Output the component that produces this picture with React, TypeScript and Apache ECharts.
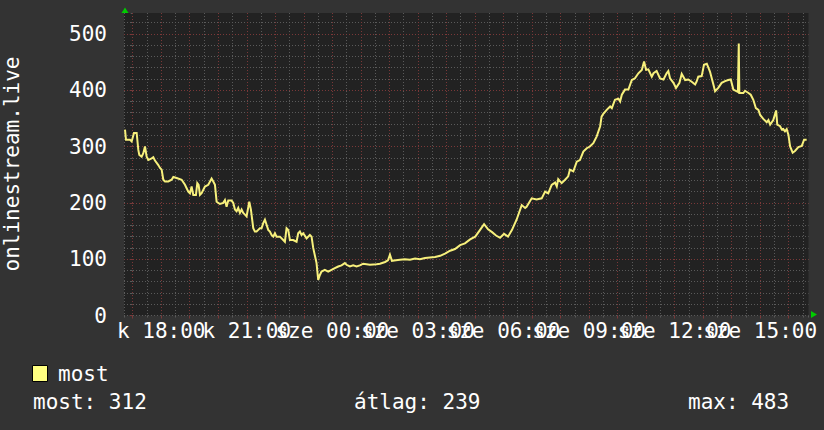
import React, { useEffect, useRef } from "react";
import * as echarts from "echarts";

// hours since Tuesday ("k") 17:00
const hours = [
  -0.27, -0.235, -0.095, -0.036, 0.046, 0.139, 0.197, 0.232, 0.314, 0.372, 0.431, 0.489, 0.548, 0.665, 0.723, 0.781,
  0.898, 0.957, 1.015, 1.073, 1.132, 1.248, 1.365, 1.424, 1.541, 1.716, 1.833, 1.891, 1.949, 2.008, 2.066, 2.124,
  2.218, 2.265, 2.311, 2.358, 2.416, 2.533, 2.65, 2.767, 2.825, 2.884, 2.942, 3.059, 3.176, 3.234, 3.292, 3.351,
  3.467, 3.526, 3.584, 3.643, 3.701, 3.76, 3.818, 3.876, 3.935, 3.993, 4.087, 4.145, 4.227, 4.285, 4.343, 4.402,
  4.46, 4.519, 4.577, 4.636, 4.694, 4.752, 4.811, 4.869, 4.928, 4.986, 5.044, 5.161, 5.278, 5.336, 5.395, 5.453,
  5.512, 5.628, 5.745, 5.803, 5.862, 5.92, 5.979, 6.096, 6.212, 6.271, 6.329, 6.446, 6.504, 6.563, 6.621, 6.738,
  6.855, 6.972, 7.088, 7.205, 7.322, 7.439, 7.497, 7.614, 7.731, 7.848, 7.964, 8.081, 8.198, 8.315,
  8.55, 8.67, 8.85, 8.95, 9.02, 9.09, 9.23, 9.37, 9.54, 9.72, 9.9, 10.07, 10.25, 10.42, 10.6, 10.78, 10.95, 11.13,
  11.3, 11.48, 11.65, 11.83, 12.01, 12.18, 12.32, 12.46, 12.6, 12.74, 12.88, 13.02, 13.16, 13.3, 13.37,
  13.46, 13.64, 13.76, 13.81, 13.99, 14.16, 14.34, 14.46, 14.57, 14.69, 14.81, 14.87, 14.92, 15.04, 15.16, 15.27,
  15.33, 15.45, 15.57, 15.68, 15.8, 15.92, 16.03, 16.15, 16.27, 16.39, 16.44, 16.5, 16.62, 16.74, 16.8, 16.91,
  17.03, 17.09, 17.15, 17.26, 17.38, 17.5, 17.61, 17.73, 17.85, 17.93, 18.0, 18.08, 18.2, 18.26, 18.37, 18.49,
  18.61, 18.72, 18.78, 18.84, 18.96, 19.05, 19.17, 19.25, 19.37, 19.48, 19.6, 19.72, 19.77, 19.83, 19.95, 20.03,
  20.13, 20.24, 20.36, 20.42, 20.53, 20.65, 20.77, 20.88, 20.97, 21.06, 21.18, 21.22, 21.25, 21.27, 21.41, 21.47,
  21.59, 21.67, 21.76, 21.85, 21.94, 22.0, 22.11, 22.23, 22.29, 22.35, 22.46, 22.56, 22.6, 22.7, 22.76, 22.81,
  22.87, 22.93, 22.99, 23.05, 23.14, 23.22, 23.34, 23.46, 23.54, 23.63,
];

const values = [
  330, 312, 312, 309, 324, 324, 294, 285, 282, 288, 300, 282, 276, 279, 281, 275,
  267, 262, 259, 241, 238, 238, 241, 246, 244, 241, 232, 226, 220, 217, 229, 214,
  214, 235, 232, 214, 217, 229, 232, 243, 238, 232, 202, 198, 200, 205, 193, 204,
  204, 200, 188, 185, 191, 182, 188, 182, 179, 176, 202, 188, 155, 149, 149, 152,
  155, 155, 164, 170, 161, 152, 149, 143, 140, 146, 140, 140, 134, 131, 155, 152,
  134, 134, 131, 146, 149, 143, 146, 137, 143, 140, 120, 93, 63, 72, 78, 81,
  78, 81, 84, 87, 89, 93, 90, 87, 89, 87, 89, 92, 91, 90,
  91, 92, 95, 98, 108, 97, 98, 99, 100, 99, 101, 100, 102, 103, 104, 106, 110, 115,
  118, 125, 128, 135, 140, 152, 162, 153, 148, 142, 138, 145, 140, 152, 160,
  170, 196, 191, 193, 208, 206, 208, 220, 217, 232, 236, 229, 242, 235, 241, 247,
  259, 256, 273, 276, 291, 297, 300, 306, 318, 336, 353, 358, 365, 371, 368, 383,
  385, 380, 392, 401, 401, 418, 421, 430, 436, 451, 436, 437, 424, 430, 434, 421,
  419, 430, 434, 421, 413, 404, 413, 429, 418, 419, 415, 410, 415, 424, 425, 445,
  447, 433, 410, 398, 404, 413, 416, 418, 419, 401, 398, 397, 483, 395, 395, 399,
  395, 392, 383, 368, 365, 356, 349, 343, 347, 339, 347, 364, 339, 336, 330, 331,
  327, 331, 321, 300, 289, 292, 299, 301, 312, 312,
];

const labelHours = [1, 4, 7, 10, 13, 16, 19, 22];
const labelTexts = ["k 18:00", "k 21:00", "sze 00:00", "sze 03:00", "sze 06:00", "sze 09:00", "sze 12:00", "sze 15:00"];
const yTickValues = [0, 100, 200, 300, 400, 500];

const seriesName = "most";
const yTitle = "onlinestream.live";
const avgValue = 239;
const lastValue = values[values.length - 1];
const maxValue = Math.max(...values);

const X_MIN = -0.305;
const X_MAX = 23.695;
const Y_MAX = 537;

const FONT = "DejaVu Sans Mono";
const MAJOR = "#7a3838";
const MINOR = "#5a5a5a";
const LINE = "#f7f07c";

export default function App() {
  const ref = useRef<HTMLDivElement>(null);

  useEffect(() => {
    if (!ref.current) return;
    const chart = echarts.init(ref.current, undefined, { renderer: "svg" });
    const option: any = {
      animation: false,
      backgroundColor: "#333333",
      textStyle: { fontFamily: FONT },
      grid: {
        left: 124,
        top: 13,
        width: 684.5,
        height: 302.5,
        show: true,
        backgroundColor: "#222222",
        borderWidth: 0,
      },
      xAxis: [
        {
          type: "value",
          min: X_MIN,
          max: X_MAX,
          splitNumber: 24,
          minInterval: 1,
          maxInterval: 1,
          z: 1,
          axisLine: { show: false },
          axisTick: { show: true, length: 3, lineStyle: { color: MAJOR, width: 1 } },
          axisLabel: {
            show: true,
            showMinLabel: false,
            showMaxLabel: false,
            color: "#ffffff",
            fontFamily: FONT,
            fontSize: 21,
            margin: 5,
            formatter: (v: number) => {
              const i = labelHours.findIndex((h) => Math.abs(h - v) < 1e-6);
              return i >= 0 ? labelTexts[i] : "";
            },
          },
          splitLine: {
            show: true,
            showMinLine: false,
            showMaxLine: false,
            lineStyle: { color: MAJOR, width: 1, type: [1, 2] },
          },
        },
        {
          type: "value",
          min: X_MIN,
          max: X_MAX,
          splitNumber: 48,
          minInterval: 0.5,
          maxInterval: 0.5,
          z: 0,
          position: "bottom",
          axisLine: { show: false },
          axisTick: { show: true, length: 2, lineStyle: { color: MINOR, width: 1 } },
          axisLabel: { show: false },
          splitLine: {
            show: true,
            showMinLine: true,
            showMaxLine: false,
            lineStyle: { color: MINOR, width: 1, type: [1, 2] },
          },
        },
      ],
      yAxis: [
        {
          type: "value",
          min: 0,
          max: Y_MAX,
          interval: 100,
          z: 1,
          axisLine: { show: false },
          axisTick: { show: true, length: 3, lineStyle: { color: MAJOR, width: 1 } },
          axisLabel: {
            show: true,
            showMaxLabel: false,
            color: "#ffffff",
            fontFamily: FONT,
            fontSize: 21,
            margin: 17,
            formatter: (v: number) => (yTickValues.includes(v) ? String(v) : ""),
          },
          splitLine: {
            show: true,
            showMinLine: false,
            showMaxLine: false,
            lineStyle: { color: MAJOR, width: 1, type: [1, 2] },
          },
        },
        {
          type: "value",
          min: 0,
          max: Y_MAX,
          interval: 20,
          z: 0,
          position: "left",
          axisLine: { show: false },
          axisTick: { show: true, length: 2, lineStyle: { color: MINOR, width: 1 } },
          axisLabel: { show: false },
          splitLine: {
            show: true,
            showMinLine: true,
            showMaxLine: false,
            lineStyle: { color: MINOR, width: 1, type: [1, 2] },
          },
        },
      ],
      series: [
        {
          name: seriesName,
          type: "line",
          xAxisIndex: 0,
          yAxisIndex: 0,
          data: hours.map((h, i) => [h, values[i]]),
          symbol: "none",
          showSymbol: false,
          z: 5,
          lineStyle: { color: LINE, width: 2, join: "miter" },
        },
      ],
      graphic: [
        {
          type: "polygon",
          shape: { points: [[125, 7.5], [121.5, 13], [128.5, 13]] },
          style: { fill: "#00cc00" },
          z: 10,
        },
        {
          type: "polygon",
          shape: { points: [[817, 314.5], [811, 311], [811, 318]] },
          style: { fill: "#00cc00" },
          z: 10,
        },
        {
          type: "text",
          x: 12,
          y: 164,
          rotation: Math.PI / 2,
          style: {
            text: yTitle,
            fill: "#ffffff",
            font: `21px '${FONT}'`,
            align: "center",
            verticalAlign: "middle",
          },
        },
        {
          type: "rect",
          shape: { x: 32.5, y: 365.5, width: 15, height: 16 },
          style: { fill: "#ffff80", stroke: "#000000", lineWidth: 1 },
        },
        {
          type: "text",
          x: 58,
          y: 374,
          style: { text: seriesName, fill: "#ffffff", font: `21px '${FONT}'`, verticalAlign: "middle" },
        },
        {
          type: "text",
          x: 33,
          y: 402,
          style: { text: `${seriesName}: ${lastValue}`, fill: "#ffffff", font: `21px '${FONT}'`, verticalAlign: "middle" },
        },
        {
          type: "text",
          x: 354,
          y: 402,
          style: { text: `átlag: ${avgValue}`, fill: "#ffffff", font: `21px '${FONT}'`, verticalAlign: "middle" },
        },
        {
          type: "text",
          x: 688,
          y: 402,
          style: { text: `max: ${maxValue}`, fill: "#ffffff", font: `21px '${FONT}'`, verticalAlign: "middle" },
        },
      ],
    };
    chart.setOption(option);
    return () => chart.dispose();
  }, []);

  return (
    <div
      ref={ref}
      style={{ position: "fixed", left: 0, top: 0, width: 824, height: 430 }}
    />
  );
}
